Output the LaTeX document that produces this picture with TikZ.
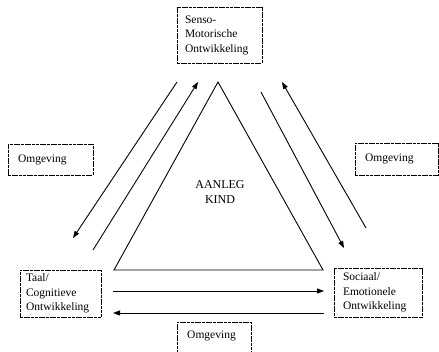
\documentclass[tikz,border=0pt]{standalone}
\usepackage{fontspec}
\setmainfont{Liberation Serif}
\usetikzlibrary{arrows.meta}
\begin{document}
\begin{tikzpicture}[x=1pt,y=-1pt,
  boxline/.style={line width=0.8pt, dash pattern=on 3pt off 0.7pt},
  box/.style={boxline, draw, align=left, inner ysep=0pt, font=\fontsize{11.5}{14.5}\selectfont},
  lbl/.style={font=\fontsize{11.5}{14.5}\selectfont, inner sep=0pt},
  arr/.style={line width=0.9pt, -{Triangle[length=7pt,width=5pt]}},
  edge/.style={line width=0.9pt, line join=miter}]
\useasboundingbox (0,0) rectangle (439,352);
\clip (0,0) rectangle (439,352);
% boxes
\node[box, minimum width=85, minimum height=56, text width=69, inner xsep=8] (senso) at (219.5,35) {Senso-\\Motorische\\Ontwikkeling};
\node[box, minimum width=85, minimum height=31, text width=65, inner xsep=10] (omgL) at (50.5,159.5) {Omgeving};
\node[box, minimum width=83, minimum height=32, text width=63, inner xsep=10] (omgR) at (396.5,159) {Omgeving};
\node[box, minimum width=81, minimum height=47, text width=69, inner xsep=6] (taal) at (60.5,293.5) {Taal/\\Cognitieve\\Ontwikkeling};
\node[box, minimum width=88, minimum height=49, text width=70, inner xsep=9] (sociaal) at (378,292.5) {Sociaal/\\Emotionele\\Ontwikkeling};
\draw[boxline] (177,360) |- (251,322) -- (251,360);
\node[lbl, anchor=west] (omgB) at (187,336) {Omgeving};
% triangle
\coordinate (apex) at (218,82);
\coordinate (bl) at (114,270);
\coordinate (br) at (323,270);
\draw[edge] (apex) -- (bl) -- (br) -- cycle;
\node[lbl, align=center, font=\fontsize{12}{15}\selectfont] (kind) at (220,192) {AANLEG\\KIND};
% left arrows
\coordinate (a1s) at (177,82); \coordinate (a1e) at (73,238);
\coordinate (a2s) at (93,250); \coordinate (a2e) at (198,82);
\draw[arr] (a1s) -- (a1e);
\draw[arr] (a2s) -- (a2e);
% right arrows
\coordinate (a3s) at (261,92); \coordinate (a3e) at (344,248);
\coordinate (a4s) at (366,228); \coordinate (a4e) at (282,82);
\draw[arr] (a3s) -- (a3e);
\draw[arr] (a4s) -- (a4e);
% horizontal arrows
\coordinate (a5s) at (113,291); \coordinate (a5e) at (324,291);
\coordinate (a6s) at (324,313); \coordinate (a6e) at (113,313);
\draw[arr] (a5s) -- (a5e);
\draw[arr] (a6s) -- (a6e);
\end{tikzpicture}
\end{document}
